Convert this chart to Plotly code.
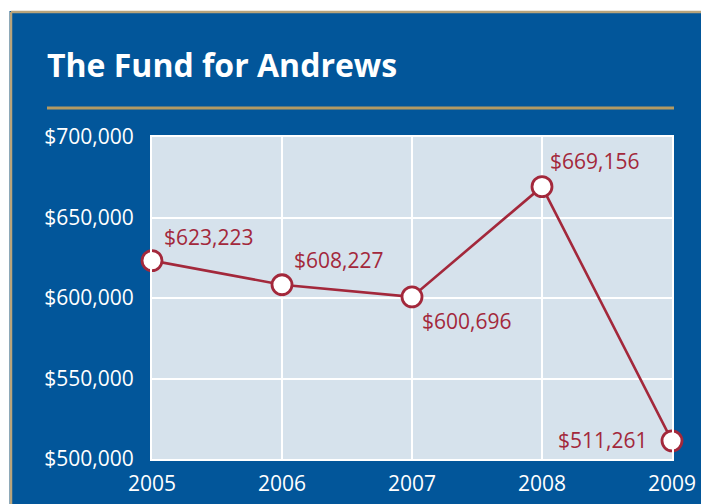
import plotly.graph_objects as go

years = [2005, 2006, 2007, 2008, 2009]
values = [623223, 608227, 600696, 669156, 511261]
labels = ["$623,223", "$608,227", "$600,696", "$669,156", "$511,261"]
y_ticks = [500000, 550000, 600000, 650000, 700000]
y_tick_text = ["$500,000", "$550,000", "$600,000", "$650,000", "$700,000"]

# label placement (anchor, pixel shift x, pixel shift y)
label_style = [("left", 10, 24), ("left", 10, 25), ("left", 8, -24), ("left", 6, 26), ("right", -22, 1)]

W, H = 701, 504
L, R, T, B = 152, 29, 137, 45
pw, ph = W - L - R, H - T - B

def px(x):
    return (x - L) / pw

def py(y):
    return (H - B - y) / ph

BLUE = "#02569a"
TAN = "#b8a47c"
GOLD = "#b39a63"
RED = "#a3283b"
FONT = "Open Sans"

fig = go.Figure()
fig.add_trace(go.Scatter(
    x=years, y=values, mode="lines+markers",
    line=dict(color=RED, width=2.6),
    marker=dict(size=20, color="white", line=dict(color=RED, width=2.8)),
    cliponaxis=False, hoverinfo="skip",
))

annotations = [dict(text="<b>The Fund for Andrews</b>", xref="paper", yref="paper",
                    x=px(45), y=py(64), xanchor="left", yanchor="middle", showarrow=False,
                    font=dict(family=FONT, size=32, color="white"))]
for xv, yv, t, (anc, dx, dy) in zip(years, values, labels, label_style):
    annotations.append(dict(x=xv, y=yv, text=t, showarrow=False, xanchor=anc, yanchor="middle",
                            xshift=dx, yshift=dy, font=dict(family=FONT, size=21, color=RED)))

shapes = [
    dict(type="rect", xref="paper", yref="paper", x0=px(-5), x1=px(W + 5), y0=py(-5), y1=py(11),
         fillcolor="white", line=dict(width=0), layer="above"),
    dict(type="rect", xref="paper", yref="paper", x0=px(-5), x1=px(9.5), y0=py(-5), y1=py(H + 5),
         fillcolor="white", line=dict(width=0), layer="above"),
    dict(type="line", xref="paper", yref="paper", x0=px(11), x1=px(W + 5), y0=py(12), y1=py(12),
         line=dict(color=TAN, width=2.5), layer="above"),
    dict(type="line", xref="paper", yref="paper", x0=px(11), x1=px(11), y0=py(12), y1=py(H + 5),
         line=dict(color=TAN, width=2.5), layer="above"),
    dict(type="line", xref="paper", yref="paper", x0=px(47), x1=px(674), y0=py(108), y1=py(108),
         line=dict(color=GOLD, width=3), layer="above"),
]

fig.update_layout(
    width=W, height=H,
    margin=dict(l=L, r=R, t=T, b=B, pad=0, autoexpand=False),
    paper_bgcolor=BLUE, plot_bgcolor="#d6e2ec",
    showlegend=False,
    shapes=shapes,
    annotations=annotations,
    xaxis=dict(range=[2005, 2009], tickvals=years, ticktext=[str(y) for y in years],
               automargin=False,
               showgrid=True, gridcolor="white", gridwidth=2, zeroline=False,
               showline=True, linecolor="white", linewidth=2, mirror=True,
               ticks="outside", ticklen=5, tickcolor="rgba(0,0,0,0)",
               tickfont=dict(family=FONT, size=21, color="white")),
    yaxis=dict(range=[500000, 700000], tickvals=y_ticks, ticktext=y_tick_text,
               automargin=False,
               showgrid=True, gridcolor="white", gridwidth=2, zeroline=False,
               showline=True, linecolor="white", linewidth=2, mirror=True,
               ticks="outside", ticklen=12, tickcolor="rgba(0,0,0,0)",
               tickfont=dict(family=FONT, size=21, color="white")),
)

fig.write_html("out.html", config={"displayModeBar": False},
               post_script="document.body.style.margin='0';document.body.style.padding='0';document.body.style.overflow='hidden';")
